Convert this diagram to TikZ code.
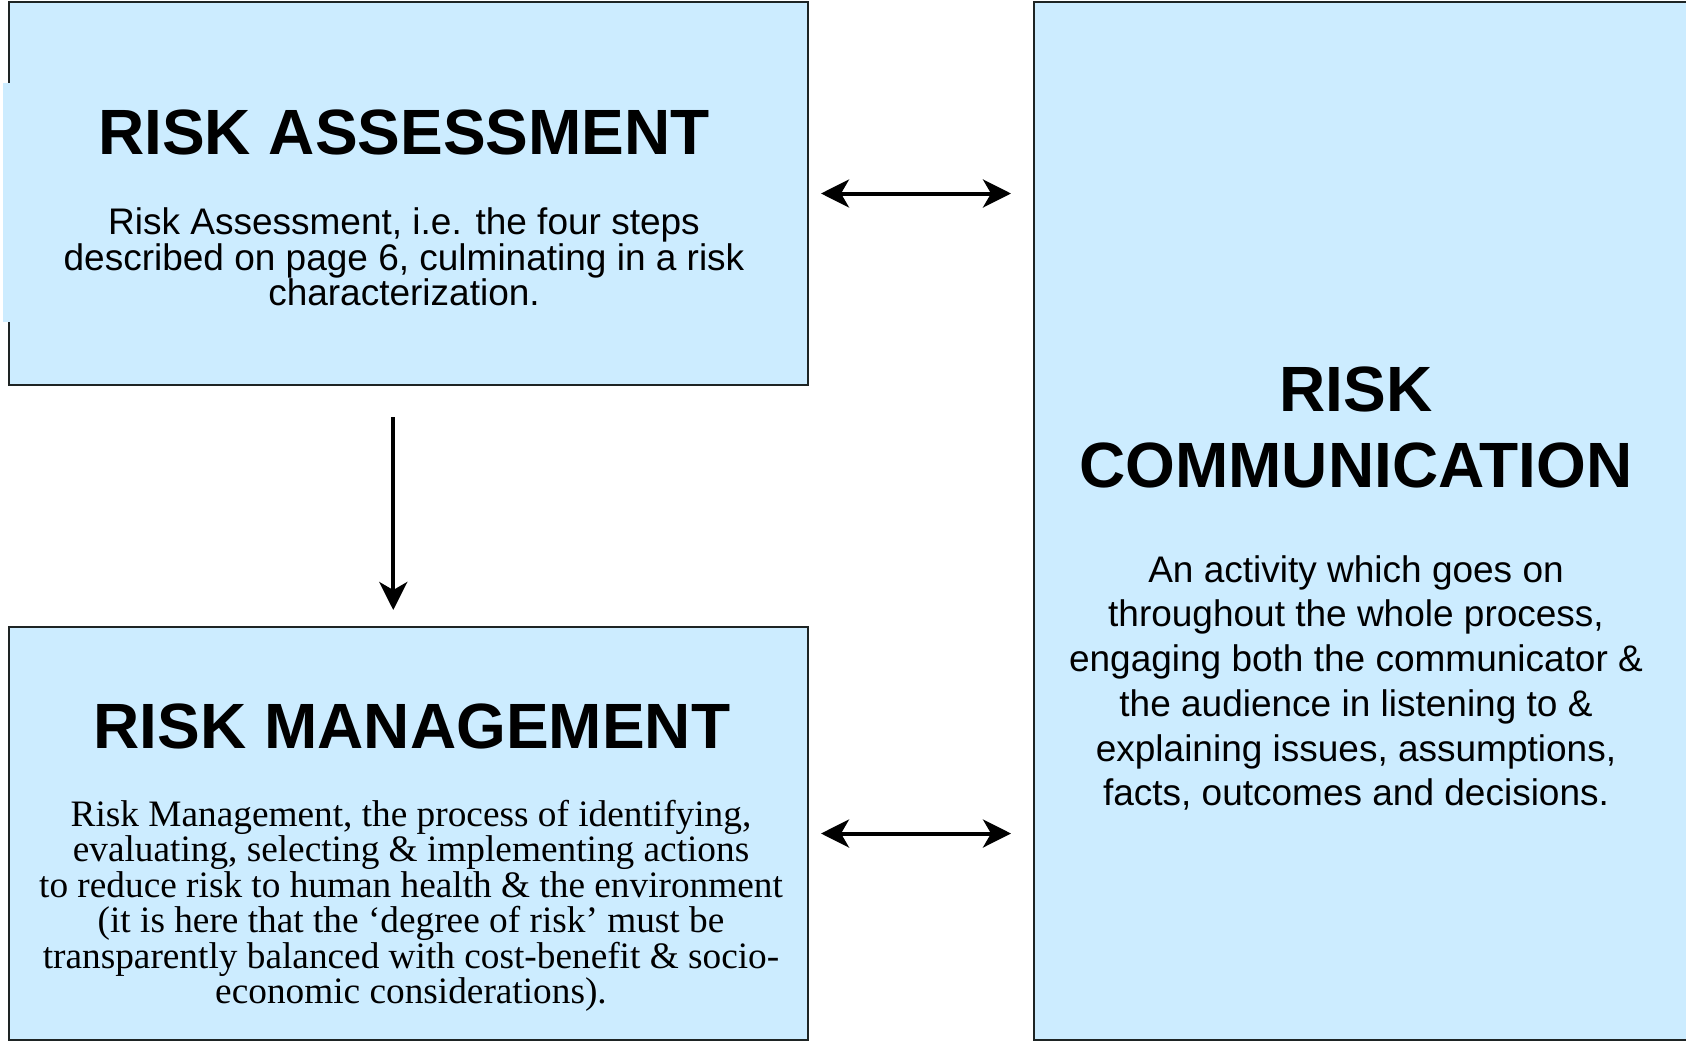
\documentclass[tikz,border=0pt]{standalone}
\usepackage{fontspec}
\setmainfont{Liberation Sans}
\newfontfamily\timesfont{Liberation Serif}
\usetikzlibrary{arrows.meta}
\definecolor{boxblue}{HTML}{CCECFF}
\definecolor{boxline}{HTML}{1E2424}
\tikzset{
	box/.style={draw=boxline, line width=2pt, fill=boxblue, inner sep=0pt},
	heading/.style={font=\bfseries\fontsize{64}{76}\selectfont, align=center, inner sep=0pt},
	bodysans/.style={font=\fontsize{37}{35.5}\selectfont, align=center, inner sep=0pt},
	twoway/.style={line width=4pt, {Stealth[length=28pt,width=28pt,inset=8pt]}-{Stealth[length=28pt,width=28pt,inset=8pt]}},
	oneway/.style={line width=4pt, -{Stealth[length=28pt,width=28pt,inset=8pt]}}
}
\begin{document}
\begin{tikzpicture}[x=1pt, y=-1pt]
	%%%%% START %%%%%
	\useasboundingbox (0,0) rectangle (1686,1041);
	
	\node[box, minimum width=799.5pt, minimum height=383pt] (ra) at (408.25,193.5) {};
	\node[box, minimum width=799.5pt, minimum height=413pt] (rm) at (408.25,833.5) {};
	\node[box, minimum width=656pt, minimum height=1038pt] (rc) at (1362,521) {};
	
	% stray patch over the left edge
	\fill[boxblue] (3,83) rectangle (11,322);
	
	\node[heading] (raHead) at (404,132) {RISK ASSESSMENT};
	\node[bodysans] (raText) at (404,257) {Risk Assessment, i.e. the four steps\\described on page 6, culminating in a risk\\characterization.};
	
	\node[heading] (rmHead) at (412,726) {RISK MANAGEMENT};
	\node[font=\timesfont\fontsize{37.3}{35.5}\selectfont, align=center, inner sep=0pt] (rmText) at (411,906) {Risk Management, the process of identifying,\\evaluating, selecting \& implementing actions\\to reduce risk to human health \& the environment\\(it is here that the ‘degree of risk’ must be\\transparently balanced with cost-benefit \& socio-\\economic considerations).};
	
	\node[heading] (rcHead) at (1356,427.5) {RISK\\COMMUNICATION};
	\node[bodysans, font=\fontsize{37}{44.7}\selectfont] (rcText) at (1356,683) {An activity which goes on\\throughout the whole process,\\engaging both the communicator \&\\the audience in listening to \&\\explaining issues, assumptions,\\facts, outcomes and decisions.};
	
	\draw[twoway] ([xshift=12pt]ra.east) -- ([xshift=-22pt]ra.east -| rc.west);
	\draw[twoway] ([xshift=12pt]rm.east) -- ([xshift=-22pt]rm.east -| rc.west);
	\draw[oneway, shorten <=31pt, shorten >=16pt] ([xshift=-15pt]ra.south) -- ([xshift=-15pt]rm.north);
	%%%%% END %%%%%
\end{tikzpicture}
\end{document}
